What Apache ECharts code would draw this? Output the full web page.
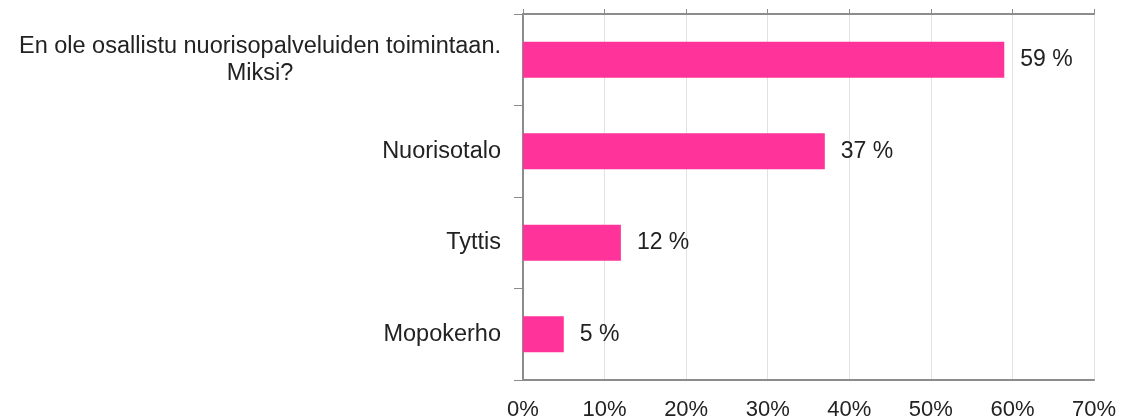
<!DOCTYPE html>
<html>
<head>
<meta charset="utf-8">
<script src="https://cdn.jsdelivr.net/npm/echarts@6/dist/echarts.min.js"></script>
<style>
  html, body { margin: 0; padding: 0; background: #fff; }
  #chart { width: 1133px; height: 418px; }
</style>
</head>
<body>
<div id="chart"></div>
<script>
const categories = [
  'En ole osallistu nuorisopalveluiden toimintaan.\nMiksi?',
  'Nuorisotalo',
  'Tyttis',
  'Mopokerho'
];
const values = [59, 37, 12, 5];
const xTicks = [0, 10, 20, 30, 40, 50, 60, 70];

const chart = echarts.init(document.getElementById('chart'));
const font = 'Liberation Sans, Arial, sans-serif';

const option = {
  animation: false,
  grid: { left: 523, right: 39, top: 14, bottom: 38, containLabel: false, outerBoundsMode: 'none' },
  xAxis: [
    {
      type: 'value',
      min: xTicks[0],
      max: xTicks[xTicks.length - 1],
      interval: 10,
      position: 'bottom',
      axisLine: { show: true, lineStyle: { color: '#8c8c8c', width: 2 } },
      axisTick: { show: false },
      splitLine: { show: true, lineStyle: { color: '#e2e2e2', width: 1 } },
      axisLabel: {
        formatter: v => v + '%',
        color: '#222',
        fontSize: 22,
        fontFamily: font,
        margin: 19
      }
    },
    {
      type: 'value',
      min: xTicks[0],
      max: xTicks[xTicks.length - 1],
      interval: 10,
      position: 'top',
      axisLine: { show: true, lineStyle: { color: '#8c8c8c', width: 2 } },
      axisTick: { show: true, length: 5, lineStyle: { color: '#8c8c8c', width: 1 } },
      axisLabel: { show: false },
      splitLine: { show: false }
    }
  ],
  yAxis: [
    {
      type: 'category',
      data: categories,
      inverse: true,
      axisLine: { show: true, lineStyle: { color: '#8c8c8c', width: 2 } },
      axisTick: { show: true, length: 9, lineStyle: { color: '#8c8c8c', width: 1 } },
      axisLabel: {
        color: '#222',
        fontSize: 23.5,
        fontFamily: font,
        margin: 22,
        lineHeight: 27,
        formatter: v => v.split('\n').map(s => '{c|' + s + '}').join('\n'),
        rich: { c: { align: 'center', fontSize: 23.5, lineHeight: 27, fontFamily: font, color: '#222' } }
      }
    },
    {
      type: 'category',
      data: categories,
      inverse: true,
      position: 'right',
      axisLine: { show: true, lineStyle: { color: '#8c8c8c', width: 2 } },
      axisTick: { show: false },
      axisLabel: { show: false }
    }
  ],
  series: [
    {
      type: 'bar',
      data: values,
      barWidth: 36,
      itemStyle: { color: '#ff3399' },
      label: {
        show: true,
        position: 'right',
        distance: 16,
        formatter: p => p.value + ' %',
        color: '#222',
        fontSize: 23,
        fontFamily: font
      }
    }
  ]
};

chart.setOption(option);
</script>
</body>
</html>
